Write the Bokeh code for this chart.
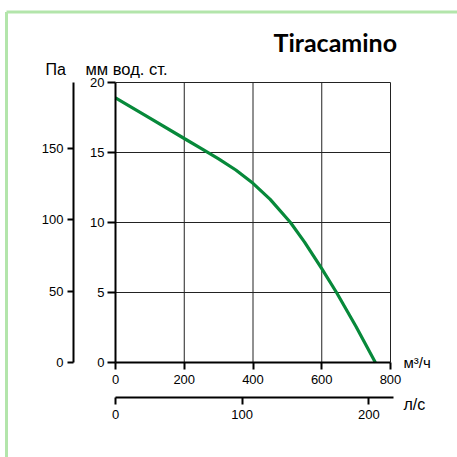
from bokeh.plotting import figure
from bokeh.models import LinearAxis, Range1d, Label, FixedTicker
from bokeh.embed import file_html
from bokeh.resources import INLINE

# ---- data ----
flow_m3h = [0, 100, 200, 250, 300, 350, 400, 450, 509, 550, 600, 643, 700, 756]
pressure_mm = [18.9, 17.45, 16.0, 15.28, 14.55, 13.75, 12.8, 11.65, 10.0, 8.6, 6.7, 5.0, 2.55, 0.0]

flow_ticks = [0, 200, 400, 600, 800]
mm_ticks = [0, 5, 10, 15, 20]
pa_ticks = [0, 50, 100, 150]
ls_ticks = [0, 100, 200]

title_text = "Tiracamino"
pa_label = "Па"
mm_label = "мм вод. ст."
m3h_label = "м³/ч"
ls_label = "л/с"

FONT = "Liberation Sans"
W, H = 457, 457

# layout: pixel positions of the chart frame inside the canvas
X0_PX, X1_PX = 115.0, 390.0      # flow 0 .. 800
Y0_PX, Y1_PX = 362.0, 82.0       # mm 0 .. 20 (from top)
XMAX, YMAX = flow_ticks[-1], mm_ticks[-1]
sx = (X1_PX - X0_PX) / XMAX
sy = (Y0_PX - Y1_PX) / YMAX
LS_SCALE = 1.2665                # px per l/s
PA_PER_MM = 9.80665

def xd(px):
    return (px - X0_PX) / sx

def yd(py):
    return (Y0_PX - py) / sy

x_range = Range1d(xd(0), xd(W))
y_range = Range1d(yd(H), yd(0))

p = figure(width=W, height=H, x_range=x_range, y_range=y_range,
           min_border=0, x_axis_location=None, y_axis_location=None,
           output_backend="svg", toolbar_location=None)
p.background_fill_color = "white"
p.border_fill_color = "white"
p.outline_line_color = None
p.grid.visible = False

p.extra_y_ranges = {"pa": Range1d(yd(H) * PA_PER_MM, yd(0) * PA_PER_MM)}
p.extra_x_ranges = {"ls": Range1d((0 - X0_PX) / LS_SCALE, (W - X0_PX) / LS_SCALE)}

# green card border (top and left edges; the others lie outside the window)
p.segment(x0=[xd(6), xd(6)], y0=[yd(11.5), yd(11.5)],
          x1=[xd(W + 20), xd(6)], y1=[yd(11.5), yd(H + 20)],
          line_color="#b3e5ab", line_width=3)

# grid lines at the tick values
p.segment(x0=flow_ticks[1:], y0=[0] * 4, x1=flow_ticks[1:], y1=[YMAX] * 4,
          line_color="#222222", line_width=1)
p.segment(x0=[0] * 4, y0=mm_ticks[1:], x1=[XMAX] * 4, y1=mm_ticks[1:],
          line_color="#222222", line_width=1)

def style_axis(ax, tick_out, standoff):
    ax.major_tick_out = tick_out
    ax.major_tick_in = 0
    ax.minor_tick_line_color = None
    ax.axis_line_width = 2
    ax.major_tick_line_width = 2
    ax.axis_line_color = "black"
    ax.major_tick_line_color = "black"
    ax.major_label_text_font = FONT
    ax.major_label_text_font_size = "13px"
    ax.major_label_text_color = "black"
    ax.major_label_standoff = standoff

xa = LinearAxis(ticker=FixedTicker(ticks=flow_ticks), fixed_location=0, bounds=(0, XMAX))
style_axis(xa, 7, 5)
p.add_layout(xa, "below")

ya = LinearAxis(ticker=FixedTicker(ticks=mm_ticks), fixed_location=0, bounds=(0, YMAX))
style_axis(ya, 8, 3)
p.add_layout(ya, "left")

pa_axis = LinearAxis(y_range_name="pa", ticker=FixedTicker(ticks=pa_ticks),
                     fixed_location=xd(73), bounds=(0, YMAX * PA_PER_MM))
style_axis(pa_axis, 6, 4)
p.add_layout(pa_axis, "left")

ls_axis = LinearAxis(x_range_name="ls", ticker=FixedTicker(ticks=ls_ticks),
                     fixed_location=yd(397), bounds=(0, (393 - X0_PX) / LS_SCALE))
style_axis(ls_axis, 7, 5)
p.add_layout(ls_axis, "below")

p.line(flow_m3h, pressure_mm, line_color="#07893a", line_width=3.2)

def add_text(txt, px, py, size, bold=False, font=FONT):
    p.add_layout(Label(x=xd(px), y=yd(py), text=txt, text_font=font,
                       text_font_size=size, text_color="black",
                       text_baseline="alphabetic", text_align="left",
                       text_font_style="bold" if bold else "normal"))

add_text(title_text, 273, 41.7, "25px", bold=True, font="Lato")
add_text(pa_label, 45, 68.5, "16px")
add_text(mm_label, 85, 68.5, "16.5px")
add_text(m3h_label, 403, 362, "15px")
add_text(ls_label, 403, 404, "16px")

open("out.html", "w").write(file_html(p, INLINE))
